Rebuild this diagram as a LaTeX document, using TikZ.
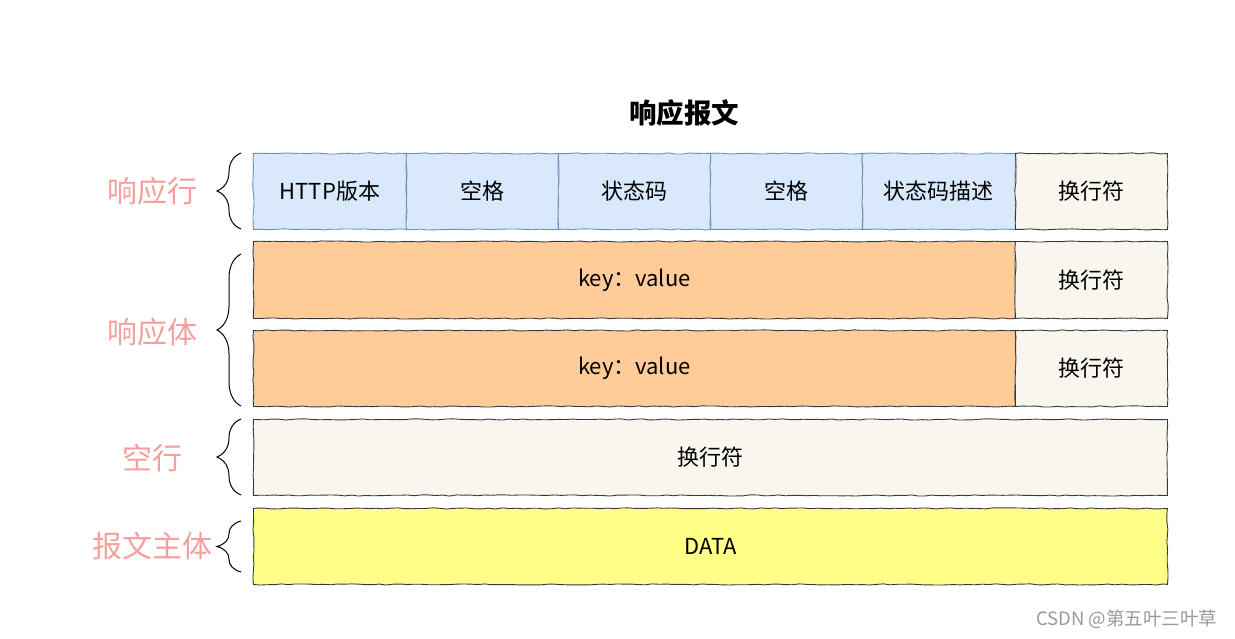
\documentclass[tikz,border=0pt]{standalone}
\usepackage{fontspec}
\setmainfont{Noto Sans CJK SC}
\usetikzlibrary{decorations.pathmorphing,decorations.pathreplacing}
\definecolor{blueF}{HTML}{DAE8FC}
\definecolor{blueD}{HTML}{6C8EBF}
\definecolor{orangeF}{HTML}{FFCC99}
\definecolor{creamF}{HTML}{F9F7ED}
\definecolor{yellowF}{HTML}{FFFF88}
\definecolor{lineC}{HTML}{36393D}
\definecolor{pinkT}{HTML}{F4A09D}
\definecolor{wmark}{HTML}{9A9A9A}
\begin{document}
\begin{tikzpicture}[x=1pt,y=-1pt,
  cell/.style={draw=lineC, line width=0.9pt, decorate,
    decoration={random steps,segment length=7pt,amplitude=0.6pt},
    inner sep=0pt, anchor=north west, text=black,
    font=\fontsize{22}{26}\selectfont},
  bluecell/.style={cell, draw=blueD, fill=blueF},
  sidelabel/.style={text=pinkT, font=\fontsize{30}{34}\selectfont},
  bracebar/.style={draw=black, line width=1pt, decorate,
    decoration={brace, amplitude=24pt}}
]
\pgfmathsetseed{7}
\useasboundingbox (0,0) rectangle (1235,638);
\fill[white] (0,0) rectangle (1235,638);

\node[font=\fontsize{27.5}{31}\selectfont\bfseries] (title) at (684,113) {响应报文};

% row 1
\node[bluecell, minimum width=153pt, minimum height=76pt] (r1a) at (253,153) {HTTP版本};
\node[bluecell, minimum width=152pt, minimum height=76pt] (r1b) at (406,153) {空格};
\node[bluecell, minimum width=152pt, minimum height=76pt] (r1c) at (558,153) {状态码};
\node[bluecell, minimum width=152pt, minimum height=76pt] (r1d) at (710,153) {空格};
\node[bluecell, minimum width=153pt, minimum height=76pt] (r1e) at (862,153) {状态码描述};
\node[cell, fill=creamF, minimum width=152pt, minimum height=76pt] (r1f) at (1015,153) {换行符};

% row 2
\node[cell, fill=orangeF, minimum width=762pt, minimum height=77pt] (r2a) at (253,241) {key：value};
\node[cell, fill=creamF, minimum width=152pt, minimum height=77pt] (r2b) at (1015,241) {换行符};

% row 3
\node[cell, fill=orangeF, minimum width=762pt, minimum height=76pt] (r3a) at (253,330) {key：value};
\node[cell, fill=creamF, minimum width=152pt, minimum height=76pt] (r3b) at (1015,330) {换行符};

% row 4
\node[cell, fill=creamF, minimum width=914pt, minimum height=76pt] (r4) at (253,419) {换行符};

% row 5
\node[cell, fill=yellowF, minimum width=914pt, minimum height=76pt] (r5) at (253,508) {DATA};

% side labels
\node[sidelabel] (l1) at (152,191) {响应行};
\node[sidelabel] (l2) at (152,332) {响应体};
\node[sidelabel] (l3) at (152,458) {空行};
\node[sidelabel] (l4) at (152,546) {报文主体};

% braces
\coordinate (b1t) at (241,153); \coordinate (b1b) at (241,229);
\coordinate (b2t) at (241,254); \coordinate (b2b) at (241,406);
\coordinate (b3t) at (241,419); \coordinate (b3b) at (241,495);
\coordinate (b4t) at (241,521); \coordinate (b4b) at (241,572);
\draw[bracebar] (b1b) -- (b1t);
\draw[bracebar] (b2b) -- (b2t);
\draw[bracebar] (b3b) -- (b3t);
\draw[bracebar] (b4b) -- (b4t);

% watermark
\node[text=wmark, font=\fontsize{18.5}{22}\selectfont, anchor=east] (wm) at (1221,619) {CSDN @第五叶三叶草};
\end{tikzpicture}
\end{document}
